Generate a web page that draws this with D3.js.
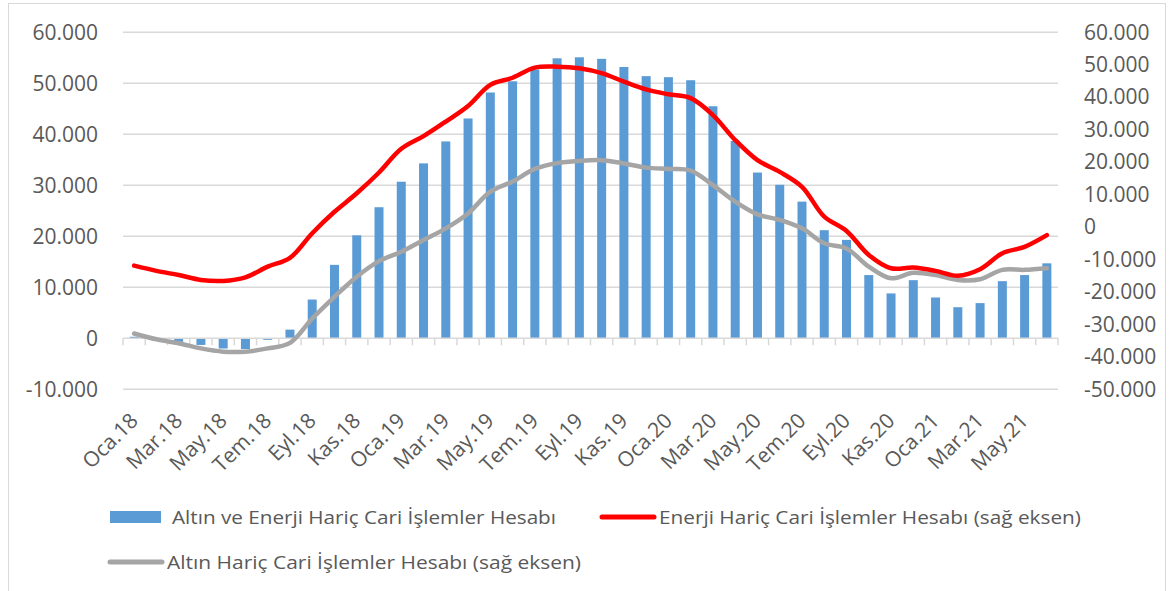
<!DOCTYPE html>
<html>
<head>
<meta charset="utf-8">
<script src="https://cdn.jsdelivr.net/npm/d3@7"></script>
<style>
  body { margin: 0; background: #fff; }
  text { font-family: 'Open Sans', sans-serif; fill: #595959; }
</style>
</head>
<body>
<svg width="1169" height="591"></svg>
<script>
// monthly data, Oca.18 - Haz.21
var months = [
    'Oca.18', 'Şub.18', 'Mar.18', 'Nis.18', 'May.18', 'Haz.18', 'Tem.18', 'Ağu.18', 'Eyl.18', 'Eki.18', 'Kas.18', 'Ara.18',
    'Oca.19', 'Şub.19', 'Mar.19', 'Nis.19', 'May.19', 'Haz.19', 'Tem.19', 'Ağu.19', 'Eyl.19', 'Eki.19', 'Kas.19', 'Ara.19',
    'Oca.20', 'Şub.20', 'Mar.20', 'Nis.20', 'May.20', 'Haz.20', 'Tem.20', 'Ağu.20', 'Eyl.20', 'Eki.20', 'Kas.20', 'Ara.20',
    'Oca.21', 'Şub.21', 'Mar.21', 'Nis.21', 'May.21', 'Haz.21'
];

// Altın ve Enerji Hariç Cari İşlemler Hesabı (left axis)
var goldEnergyExcl = [
    300, -200, -700, -1300, -2000, -2100, -300, 1700, 7600, 14400, 20200, 25700,
    30700, 34300, 38600, 43100, 48200, 50400, 52700, 54900, 55100, 54800, 53200, 51400,
    51200, 50600, 45500, 38700, 32500, 30100, 26800, 21200, 19300, 12400, 8800, 11400,
    8000, 6100, 6900, 11200, 12400, 14700
];

// Enerji Hariç Cari İşlemler Hesabı (right axis)
var energyExcl = [
    -11900, -13500, -14800, -16300, -16600, -15500, -12200, -9500, -1900, 4700, 10400, 16800,
    24100, 28000, 32500, 37300, 43800, 46000, 49100, 49400, 48900, 47400, 44800, 42400,
    40900, 39700, 34500, 26800, 20600, 17000, 12400, 3200, -1200, -8600, -12700, -12500,
    -13500, -15000, -13000, -8100, -6100, -2500
];

// Altın Hariç Cari İşlemler Hesabı (right axis)
var goldExcl = [
    -32800, -34600, -35800, -37400, -38400, -38400, -37400, -35700, -28200, -21500, -15300, -10500,
    -7600, -4000, -400, 4200, 10900, 14000, 17900, 19700, 20400, 20600, 19600, 18300,
    17900, 17400, 12900, 7800, 3900, 2200, -400, -5000, -6600, -12200, -15800, -14100,
    -14800, -16300, -16100, -13200, -13200, -12700
];

var leftTicks = [-10000, 0, 10000, 20000, 30000, 40000, 50000, 60000];
var rightTicks = [-50000, -40000, -30000, -20000, -10000, 0, 10000, 20000, 30000, 40000, 50000, 60000];

var legendNames = [
    'Altın ve Enerji Hariç Cari İşlemler Hesabı',
    'Enerji Hariç Cari İşlemler Hesabı (sağ eksen)',
    'Altın Hariç Cari İşlemler Hesabı (sağ eksen)'
];

var colors = {bar: '#5b9bd5', red: '#ff0000', gray: '#a5a5a5', grid: '#d9d9d9'};

var svg = d3.select('svg');
var plot = {l: 123, r: 1058, t: 32.3, b: 389.3};

// Turkish thousands separator
var fmt = function(v) {
    return v === 0 ? '0' : d3.format(',d')(v).replace(/,/g, '.').replace('−', '-');
};

var xBand = d3.scaleBand().domain(months).range([plot.l, plot.r]);
var yLeft = d3.scaleLinear().domain([-10000, 60000]).range([plot.b, plot.t]);
var yRight = d3.scaleLinear().domain([-50000, 60000]).range([plot.b, plot.t]);

var cx = function(m) { return xBand(m) + xBand.bandwidth() / 2; };

// chart frame
svg.append('rect')
    .attr('x', 8.5).attr('y', 3.5)
    .attr('width', 1157).attr('height', 600)
    .attr('fill', 'none')
    .attr('stroke', colors.grid);

// gridlines
svg.append('g').selectAll('line')
    .data(leftTicks.filter(function(d) { return d !== 0; }))
    .enter().append('line')
    .attr('x1', plot.l).attr('x2', plot.r)
    .attr('y1', function(d) { return yLeft(d); })
    .attr('y2', function(d) { return yLeft(d); })
    .attr('stroke', colors.grid)
    .attr('stroke-width', 1.5);

// left axis labels
svg.append('g')
    .attr('transform', 'translate(' + (plot.l - 22) + ',0)')
    .call(d3.axisLeft(yLeft).tickValues(leftTicks).tickSize(0).tickFormat(fmt))
    .call(function(g) { g.select('.domain').remove(); })
    .selectAll('text')
    .style('font-size', '21px')
    .attr('fill', '#595959')
    .attr('font-family', null);

// right axis labels
svg.append('g')
    .attr('transform', 'translate(' + (plot.r + 23) + ',0)')
    .call(d3.axisRight(yRight).tickValues(rightTicks).tickSize(0).tickFormat(fmt))
    .call(function(g) { g.select('.domain').remove(); })
    .selectAll('text')
    .style('font-size', '21px')
    .attr('fill', '#595959')
    .attr('font-family', null);

// bars
svg.append('g').selectAll('rect')
    .data(goldEnergyExcl)
    .enter().append('rect')
    .attr('x', function(d, i) { return cx(months[i]) - 4.5; })
    .attr('width', 9)
    .attr('y', function(d) { return yLeft(Math.max(0, d)); })
    .attr('height', function(d) { return Math.abs(yLeft(d) - yLeft(0)); })
    .attr('fill', colors.bar);

// category axis at zero
var axisG = svg.append('g');
axisG.append('line')
    .attr('x1', plot.l).attr('x2', plot.r)
    .attr('y1', yLeft(0)).attr('y2', yLeft(0))
    .attr('stroke', colors.grid)
    .attr('stroke-width', 1.5);
axisG.selectAll('.tick')
    .data(months.concat(['end']))
    .enter().append('line')
    .attr('x1', function(d, i) { return plot.l + i * xBand.step(); })
    .attr('x2', function(d, i) { return plot.l + i * xBand.step(); })
    .attr('y1', yLeft(0)).attr('y2', yLeft(0) + 7)
    .attr('stroke', colors.grid)
    .attr('stroke-width', 1.5);

// lines
var line = d3.line()
    .x(function(d, i) { return cx(months[i]); })
    .y(function(d) { return yRight(d); })
    .curve(d3.curveCatmullRom.alpha(0.5));

svg.append('path')
    .datum(goldExcl)
    .attr('d', line)
    .attr('fill', 'none')
    .attr('stroke', colors.gray)
    .attr('stroke-width', 4.5)
    .attr('stroke-linecap', 'round');

svg.append('path')
    .datum(energyExcl)
    .attr('d', line)
    .attr('fill', 'none')
    .attr('stroke', colors.red)
    .attr('stroke-width', 4.5)
    .attr('stroke-linecap', 'round');

// rotated month labels, every second month
svg.append('g').selectAll('text')
    .data(months.filter(function(d, i) { return i % 2 === 0; }))
    .enter().append('text')
    .attr('transform', function(d) {
        return 'translate(' + (cx(d) + 5) + ',' + 422 + ') rotate(-45)';
    })
    .attr('text-anchor', 'end')
    .style('font-size', '21px')
    .text(function(d) { return d; });

// legend
var legend = svg.append('g').style('font-size', '19px');

legend.append('rect')
    .attr('x', 110).attr('y', 511)
    .attr('width', 51).attr('height', 12)
    .attr('fill', colors.bar);
legend.append('text')
    .attr('x', 172).attr('y', 524)
    .attr('textLength', 384).attr('lengthAdjust', 'spacingAndGlyphs')
    .text(legendNames[0]);

legend.append('line')
    .attr('x1', 602).attr('x2', 654)
    .attr('y1', 517).attr('y2', 517)
    .attr('stroke', colors.red).attr('stroke-width', 5).attr('stroke-linecap', 'round');
legend.append('text')
    .attr('x', 659).attr('y', 524)
    .attr('textLength', 422).attr('lengthAdjust', 'spacingAndGlyphs')
    .text(legendNames[1]);

legend.append('line')
    .attr('x1', 110).attr('x2', 162)
    .attr('y1', 562).attr('y2', 562)
    .attr('stroke', colors.gray).attr('stroke-width', 5).attr('stroke-linecap', 'round');
legend.append('text')
    .attr('x', 167).attr('y', 569)
    .attr('textLength', 414).attr('lengthAdjust', 'spacingAndGlyphs')
    .text(legendNames[2]);
</script>
</body>
</html>
